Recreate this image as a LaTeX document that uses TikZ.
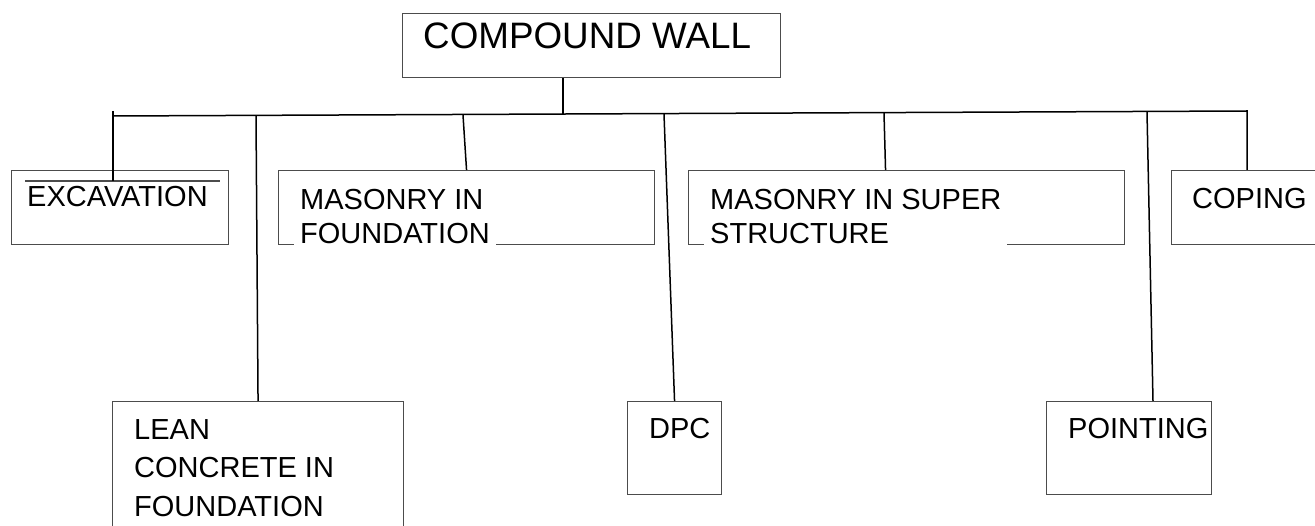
\documentclass[tikz,border=0pt]{standalone}
\usepackage{fontspec}
\setmainfont{Liberation Sans}
\usetikzlibrary{positioning}

\begin{document}
\begin{tikzpicture}[x=1pt,y=-1pt,
        box/.style={draw=black!70,line width=1.1pt,anchor=north west,inner sep=0pt},
        lbl/.style={anchor=north west,inner xsep=6pt,inner ysep=0pt,align=left,font=\fontsize{29}{34}\selectfont},
        over/.style={lbl,fill=white,text depth=3pt},
        link/.style={line width=1.5pt}]
        \useasboundingbox (0,0) rectangle (1315,526);
        \node[box,minimum width=378pt,minimum height=64pt] (wall) at (402,13) {};
        \node[box,minimum width=217pt,minimum height=74pt] (exc) at (11,170) {};
        \node[box,minimum width=376pt,minimum height=74pt] (mfnd) at (278,170) {};
        \node[box,minimum width=436pt,minimum height=74pt] (msup) at (688,170) {};
        \node[box,minimum width=144pt,minimum height=74pt] (cop) at (1171,170) {};
        \node[box,minimum width=291pt,minimum height=140pt] (lean) at (112,401) {};
        \node[box,minimum width=94pt,minimum height=93pt] (dpc) at (627,401) {};
        \node[box,minimum width=165pt,minimum height=93pt] (pnt) at (1046,401) {};
        \draw[draw=black!70,line width=1.1pt] ([shift={(14pt,-11pt)}]exc.north west) -- ([shift={(-9pt,-11pt)}]exc.north east);
        \node[lbl,font=\fontsize{36.8}{40}\selectfont] (t-wall) at (417,23) {COMPOUND WALL};
        \node[lbl] (t-exc) at (21,186) {EXCAVATION};
        \node[over] (t-mfnd) at (294,189) {MASONRY IN\\FOUNDATION};
        \node[over] (t-msup) at (704,189) {MASONRY IN SUPER\\STRUCTURE};
        \node[lbl] (t-cop) at (1186,188) {COPING};
        \node[lbl,font=\fontsize{29}{38.5}\selectfont] (t-lean) at (128,419) {LEAN\\CONCRETE IN\\FOUNDATION};
        \node[lbl] (t-dpc) at (643,418) {DPC};
        \node[lbl] (t-pnt) at (1062,418) {POINTING};
        \coordinate (busl) at (113,116);
        \coordinate (busr) at (1247,111);
        \coordinate (j0) at (563,115);
        \coordinate (ja) at (113,111);
        \coordinate (jb) at (256,116);
        \coordinate (jc) at (463,115);
        \coordinate (jd) at (664,114);
        \coordinate (je) at (884,113);
        \coordinate (jf) at (1147,112);
        \coordinate (exin) at ([yshift=-11pt]exc.north);
        \draw[link] (j0 |- wall.south) -- (j0);
        \draw[link] (busl) -- (busr) -- (busr |- cop.north);
        \draw[link] (ja) -- (ja |- exin);
        \draw[link] (jb) -- (lean.north);
        \draw[link] (jc) -- (mfnd.north);
        \draw[link] (jd) -- (dpc.north);
        \draw[link] (je) -- ([xshift=-21pt]msup.north);
        \draw[link] (jf) -- ([xshift=107pt]pnt.north west);
    \end{tikzpicture}
\end{document}
